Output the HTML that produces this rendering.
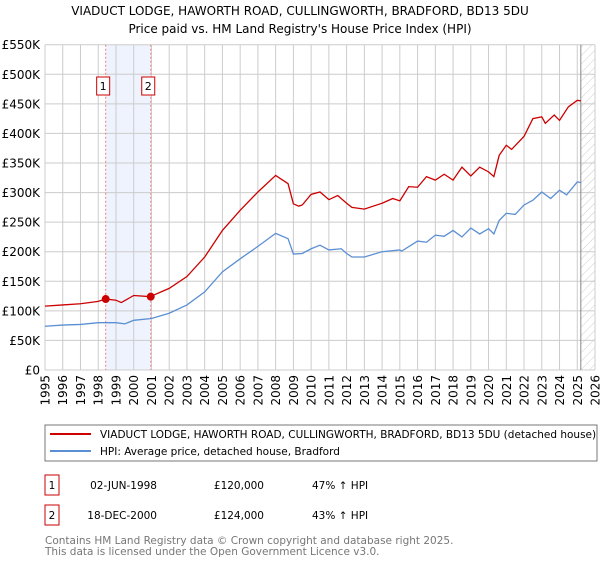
<!DOCTYPE html>
<html><head><meta charset="utf-8"><style>
body{margin:0;background:#fff;font-family:"DejaVu Sans","Liberation Sans",sans-serif;}
svg text{font-family:"DejaVu Sans","Liberation Sans",sans-serif;}
</style></head><body>
<svg id="c" width="600" height="560" xmlns="http://www.w3.org/2000/svg">
<defs><pattern id="hatch" width="6" height="6" patternUnits="userSpaceOnUse" patternTransform="rotate(45)"><line x1="0" y1="0" x2="0" y2="6" stroke="#ccc" stroke-width="1"/></pattern></defs>
<text x="300" y="15" text-anchor="middle" font-size="12">VIADUCT LODGE, HAWORTH ROAD, CULLINGWORTH, BRADFORD, BD13 5DU</text>
<text x="300" y="33" text-anchor="middle" font-size="12">Price paid vs. HM Land Registry's House Price Index (HPI)</text>
<g id="grid"></g><g id="marks"></g><g id="axes"></g>
<rect x="45" y="425" width="552" height="36" fill="#fff" stroke="#777"/>
<line x1="50" y1="434" x2="91" y2="434" stroke="#cc0000" stroke-width="2"/>
<text x="100" y="438" font-size="10.5">VIADUCT LODGE, HAWORTH ROAD, CULLINGWORTH, BRADFORD, BD13 5DU (detached house)</text>
<line x1="50" y1="451" x2="91" y2="451" stroke="#5b8fd4" stroke-width="2"/>
<text x="100" y="455" font-size="10.5">HPI: Average price, detached house, Bradford</text>
<g>
<rect x="45" y="475" width="14" height="20" fill="#fff" stroke="#cc0000"/>
<text x="52" y="489" text-anchor="middle" font-size="10.5">1</text>
<text x="157" y="489" text-anchor="end" font-size="10.5">02-JUN-1998</text>
<text x="264" y="489" text-anchor="end" font-size="10.5">£120,000</text>
<text x="312" y="489" font-size="10.5">47% ↑ HPI</text></g>
<g>
<rect x="45" y="505" width="14" height="20" fill="#fff" stroke="#cc0000"/>
<text x="52" y="519" text-anchor="middle" font-size="10.5">2</text>
<text x="157" y="519" text-anchor="end" font-size="10.5">18-DEC-2000</text>
<text x="264" y="519" text-anchor="end" font-size="10.5">£124,000</text>
<text x="312" y="519" font-size="10.5">43% ↑ HPI</text></g>
<text x="45" y="544" font-size="10.5" fill="#777">Contains HM Land Registry data © Crown copyright and database right 2025.</text>
<text x="45" y="555" font-size="10.5" fill="#777">This data is licensed under the Open Government Licence v3.0.</text>
</svg>
<script>
const hpiYears=[1995,1996,1997,1998,1999,1999.5,2000,2001,2002,2003,2004,2005,2006,2007,2008,2008.7,2009,2009.5,2010,2010.5,2011,2011.7,2012,2012.3,2013,2014,2015,2015.1,2016,2016.5,2017,2017.5,2018,2018.5,2019,2019.5,2020,2020.3,2020.6,2021,2021.5,2022,2022.5,2023,2023.5,2024,2024.4,2025,2025.2];
const hpiValues=[74,76,77,80,80,78,84,87,96,110,132,166,188,209,231,222,196,197,205,211,203,205,197,191,191,200,203,201,218,216,228,226,236,225,240,230,239,230,253,265,263,279,287,301,290,304,296,318,317];
const propYears=[1995,1996,1997,1998,1998.42,1999,1999.3,2000,2000.96,2001,2002,2003,2004,2005,2006,2007,2008,2008.7,2009,2009.3,2009.5,2010,2010.5,2011,2011.5,2012,2012.3,2013,2014,2014.6,2015,2015.5,2016,2016.5,2017,2017.5,2018,2018.5,2019,2019.5,2020,2020.3,2020.6,2021,2021.3,2022,2022.5,2023,2023.2,2023.7,2024,2024.5,2025,2025.2];
const propValues=[108,110,112,116,120,118,114,126,124,125,138,158,191,236,270,301,329,315,281,277,279,297,301,288,295,282,275,272,282,290,286,310,309,327,321,331,321,343,328,343,335,327,363,380,373,395,425,428,417,431,422,445,456,455];
const saleYears=[1998.42,2000.96];
const saleValues=[120,124];
const saleLabels=["1","2"];
const yTicks=[0,50,100,150,200,250,300,350,400,450,500,550];
const xTicks=[1995,1996,1997,1998,1999,2000,2001,2002,2003,2004,2005,2006,2007,2008,2009,2010,2011,2012,2013,2014,2015,2016,2017,2018,2019,2020,2021,2022,2023,2024,2025,2026];
const X0=45,X1=595,Y0=370,Y1=44.7;
const x=v=>X0+(v-1995)/(2026-1995)*(X1-X0);
const y=v=>Y0-v/550*(Y0-Y1);
const NS="http://www.w3.org/2000/svg";
function mk(p,t,a){const e=document.createElementNS(NS,t);for(const k in a)e.setAttribute(k,a[k]);p.appendChild(e);return e;}
const grid=document.getElementById('grid'),marks=document.getElementById('marks'),axes=document.getElementById('axes');
const sh=mk(grid,'rect',{x:x(saleYears[0]),y:Y1,width:x(saleYears[1])-x(saleYears[0]),height:Y0-Y1,fill:'#eef3fd'});


const ht=mk(grid,'rect',{x:x(2025.2),y:Y1,width:X1-x(2025.2),height:Y0-Y1,fill:'url(#hatch)'});


yTicks.forEach(t=>{
 const l=mk(grid,'line',{x1:X0,x2:X1,y1:y(t),y2:y(t),stroke:'#ccc'});
 
 
 const tx=mk(axes,'text',{x:X0-5,y:y(t)+4.5,'text-anchor':'end','font-size':'12'});
 tx.textContent=t===0?'£0':'£'+t+'K';
 
 
});
xTicks.forEach(t=>{
 const l=mk(grid,'line',{x1:x(t),x2:x(t),y1:Y1,y2:Y0,stroke:'#ccc'});
 
 
 const tx=mk(axes,'text',{x:0,y:0,'text-anchor':'end','font-size':'12',transform:`translate(${x(t)+4.5},${Y0+5}) rotate(-90)`});
 tx.textContent=t;
 
 
});
const vl=mk(grid,'line',{x1:x(2025.2),x2:x(2025.2),y1:Y1,y2:Y0,stroke:'#888'});


saleYears.forEach((s,i)=>{
 const l=mk(marks,'line',{x1:x(s),x2:x(s),y1:Y1,y2:Y0,stroke:'#f08080','stroke-dasharray':'2,2'});
 
 
 const r=mk(marks,'rect',{x:x(s)-9,y:77,width:13,height:18,fill:'#fff',stroke:'#cc0000'});
 
 
 const t=mk(marks,'text',{x:x(s)-2.5,y:90,'text-anchor':'middle','font-size':'11'});
 t.textContent=saleLabels[i];
 
 
});
const hp=mk(marks,'polyline',{points:hpiYears.map((v,i)=>x(v)+','+y(hpiValues[i])).join(' '),fill:'none',stroke:'#5b8fd4','stroke-width':1.3});


const pp=mk(marks,'polyline',{points:propYears.map((v,i)=>x(v)+','+y(propValues[i])).join(' '),fill:'none',stroke:'#cc0000','stroke-width':1.3});


saleYears.forEach((s,i)=>{
 const c=mk(marks,'circle',{cx:x(s),cy:y(saleValues[i]),r:4,fill:'#cc0000'});
 
 
});
</script>
</body></html>
